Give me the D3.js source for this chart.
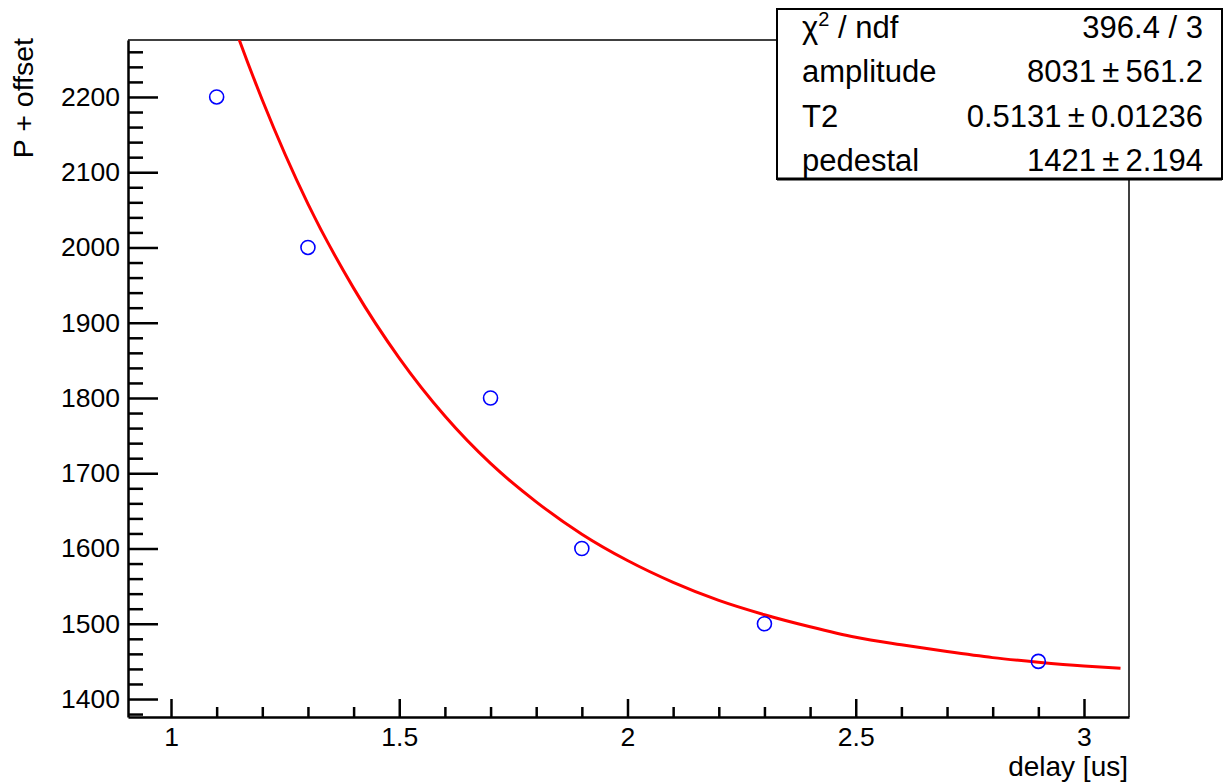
<!DOCTYPE html>
<html>
<head>
<meta charset="utf-8">
<script src="https://cdn.jsdelivr.net/npm/d3@7"></script>
<style>
  body { margin: 0; background: #fff; }
  svg text { font-family: "Liberation Sans", Arial, Helvetica, sans-serif; fill: #000; }
</style>
</head>
<body>
<svg id="chart" width="1225" height="783"></svg>
<script>
// measured points
const delays = [1.1, 1.3, 1.7, 1.9, 2.3, 2.9];
const signal = [2200, 2000, 1800, 1600, 1500, 1450];

// fit curve
const fitDelays = [1.1, 1.15, 1.2, 1.3, 1.4, 1.5, 1.6, 1.7, 1.8, 1.9, 2.0, 2.1, 2.2, 2.3, 2.4, 2.5, 2.6, 2.7, 2.8, 2.9, 3.0, 3.08];
const fitValues = [2362, 2275, 2196, 2058, 1946, 1853, 1776, 1713, 1662, 1619, 1584, 1555, 1531, 1512, 1496, 1482, 1472, 1463, 1455, 1449, 1444, 1441];

const xTicks = [1, 1.5, 2, 2.5, 3];
const yTicks = [1400, 1500, 1600, 1700, 1800, 1900, 2000, 2100, 2200];

const statNames = ['amplitude', 'T2', 'pedestal'];
const statValues = ['396.4 / 3', '8031\u2009\u00b1\u2009561.2', '0.5131\u2009\u00b1\u20090.01236', '1421\u2009\u00b1\u20092.194'];

const frame = { left: 128, right: 1129, top: 40, bottom: 717 };

const svg = d3.select('#chart');

const x = d3.scaleLinear()
    .domain([0.9058, 3.0986])
    .range([frame.left, frame.right]);

const y = d3.scaleLinear()
    .domain([1376.1, 2275.7])
    .range([frame.bottom, frame.top]);

// minor ticks (every 0.1 and every 20)
const xMinor = d3.range(9, 31).map(i => i / 10)
    .filter(v => v >= x.domain()[0] && v <= x.domain()[1] && (Math.round(v * 10) % 5 !== 0));
const yMinor = d3.range(1380, 2280, 20)
    .filter(v => v >= y.domain()[0] && v <= y.domain()[1] && v % 100 !== 0);

// clip for the curve
svg.append('clipPath')
    .attr('id', 'frame-clip')
    .append('rect')
    .attr('x', frame.left)
    .attr('y', frame.top)
    .attr('width', frame.right - frame.left)
    .attr('height', frame.bottom - frame.top);

// frame top and right (thin)
svg.append('line')
    .attr('x1', frame.left).attr('x2', frame.right)
    .attr('y1', frame.top).attr('y2', frame.top)
    .attr('stroke', '#000').attr('stroke-width', 1.5);
svg.append('line')
    .attr('x1', frame.right).attr('x2', frame.right)
    .attr('y1', frame.top).attr('y2', frame.bottom)
    .attr('stroke', '#000').attr('stroke-width', 1.5);

// x axis
const xAxisG = svg.append('g')
    .attr('transform', `translate(0,${frame.bottom})`)
    .call(d3.axisBottom(x).tickValues(xTicks).tickSizeInner(-18).tickSizeOuter(0).tickPadding(10)
        .tickFormat(d3.format('')));
svg.append('g')
    .attr('transform', `translate(0,${frame.bottom})`)
    .call(d3.axisBottom(x).tickValues(xMinor).tickSizeInner(-10).tickSizeOuter(0).tickFormat(''))
    .call(g => g.select('.domain').remove());

// y axis
const yAxisG = svg.append('g')
    .attr('transform', `translate(${frame.left},0)`)
    .call(d3.axisLeft(y).tickValues(yTicks).tickSizeInner(-30).tickSizeOuter(0).tickPadding(8)
        .tickFormat(d3.format('d')));
svg.append('g')
    .attr('transform', `translate(${frame.left},0)`)
    .call(d3.axisLeft(y).tickValues(yMinor).tickSizeInner(-15).tickSizeOuter(0).tickFormat(''))
    .call(g => g.select('.domain').remove());

svg.selectAll('.tick line').attr('stroke', '#000').attr('stroke-width', 2.5);
[xAxisG, yAxisG].forEach(g => {
    g.select('.domain').attr('stroke', '#000').attr('stroke-width', 2.5);
    g.selectAll('.tick text')
        .attr('font-size', '26.5px')
        .attr('font-family', '"Liberation Sans", Arial, sans-serif')
        .attr('fill', '#000');
});

// axis titles
svg.append('text')
    .attr('transform', `translate(33,${frame.top - 2}) rotate(-90)`)
    .attr('text-anchor', 'end')
    .attr('font-size', '28.5px')
    .text('P + offset');

svg.append('text')
    .attr('x', 1128)
    .attr('y', 776)
    .attr('text-anchor', 'end')
    .attr('font-size', '28px')
    .text('delay [us]');

// fit curve
const fitData = fitDelays.map((d, i) => ({ x: d, y: fitValues[i] }));
const line = d3.line()
    .x(d => x(d.x))
    .y(d => y(d.y))
    .curve(d3.curveMonotoneX);

svg.append('path')
    .datum(fitData)
    .attr('clip-path', 'url(#frame-clip)')
    .attr('fill', 'none')
    .attr('stroke', '#ff0000')
    .attr('stroke-width', 3)
    .attr('d', line);

// data markers
svg.selectAll('.pt')
    .data(delays.map((d, i) => ({ x: d, y: signal[i] })))
    .enter()
    .append('circle')
    .attr('class', 'pt')
    .attr('cx', d => x(d.x))
    .attr('cy', d => y(d.y))
    .attr('r', 7)
    .attr('fill', 'none')
    .attr('stroke', '#0000ff')
    .attr('stroke-width', 1.6);

// stats box
const box = { x: 777, y: 9, w: 445, h: 170 };
svg.append('rect')
    .attr('x', box.x).attr('y', box.y)
    .attr('width', box.w).attr('height', box.h)
    .attr('fill', '#fff')
    .attr('stroke', '#000')
    .attr('stroke-width', 2);
svg.append('line')
    .attr('x1', box.x).attr('x2', box.x + box.w)
    .attr('y1', box.y + box.h).attr('y2', box.y + box.h)
    .attr('stroke', '#000').attr('stroke-width', 3);

const rowY = i => box.y + 29 + i * 44.3;

// first row: chi2 / ndf
const chi = svg.append('text')
    .attr('x', 802)
    .attr('y', rowY(0))
    .attr('font-size', '31px');
chi.append('tspan').text('\u03c7');
chi.append('tspan').attr('dy', -12).attr('font-size', '20px').text('2');
chi.append('tspan').attr('dy', 12).text(' / ndf');

statNames.forEach((name, i) => {
    svg.append('text')
        .attr('x', 802)
        .attr('y', rowY(i + 1))
        .attr('font-size', '31px')
        .text(name);
});

statValues.forEach((val, i) => {
    svg.append('text')
        .attr('x', 1203)
        .attr('y', rowY(i))
        .attr('text-anchor', 'end')
        .attr('font-size', '31px')
        .text(val);
});
</script>
</body>
</html>
